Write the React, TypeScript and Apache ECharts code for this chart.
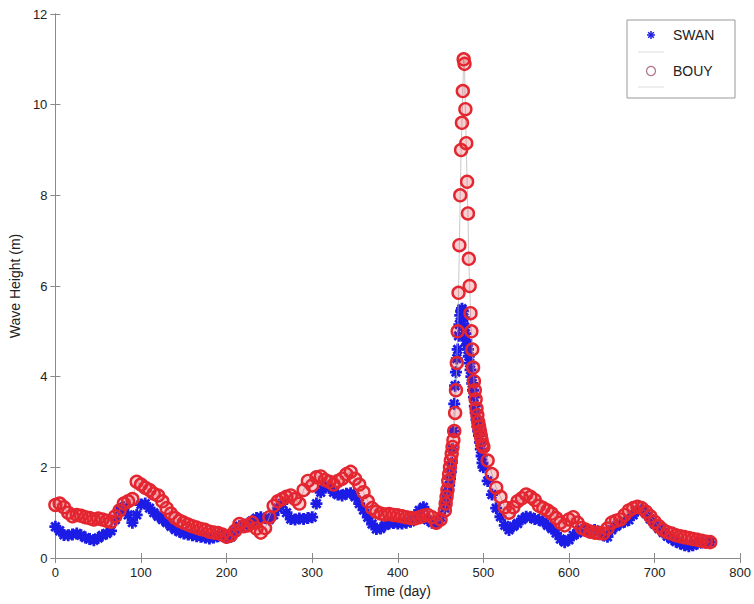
import React, { useEffect, useRef } from "react";
import * as echarts from "echarts";

// Time (day) of each sample
const days = [
  0, 5, 10, 15, 20, 25, 30, 35, 40, 45, 50, 55, 60, 65, 70, 75, 80, 85, 90, 95,
  100, 105, 110, 115, 120, 125, 130, 135, 140, 145, 150, 155, 160, 165, 170, 175, 180, 185, 190, 195,
  200, 205, 210, 215, 220, 225, 230, 235, 240, 245, 250, 255, 260, 265, 270, 275, 280, 285, 290, 295,
  300, 305, 310, 315, 320, 325, 330, 335, 340, 345, 350, 355, 360, 365, 370, 375, 380, 385, 390, 395,
  400, 405, 410, 415, 420, 425, 430, 435, 440, 445, 450, 455,
  456, 457, 458, 459, 460, 461, 462, 463, 464, 465, 466, 467, 468, 469, 470, 471, 472, 473, 474, 475,
  476, 477, 478, 479, 480, 481, 482, 483, 484, 485, 486, 487, 488, 489, 490, 491, 492, 493, 494, 495,
  496, 497, 498, 499, 500,
  505, 510, 515, 520, 525, 530, 535, 540, 545, 550, 555, 560, 565, 570, 575, 580, 585, 590, 595, 600,
  605, 610, 615, 620, 625, 630, 635, 640, 645, 650, 655, 660, 665, 670, 675, 680, 685, 690, 695, 700,
  705, 710, 715, 720, 725, 730, 735, 740, 745, 750, 755, 760, 765,
];

// SWAN model wave height (m)
const swanValues = [
  0.69, 0.6, 0.51, 0.5, 0.52, 0.54, 0.5, 0.45, 0.42, 0.39,
  0.44, 0.5, 0.54, 0.6, 0.85, 1.06, 1.12, 0.95, 0.78, 0.95,
  1.18, 1.2, 1.1, 1.0, 0.92, 0.85, 0.78, 0.7, 0.63, 0.58,
  0.54, 0.52, 0.5, 0.48, 0.47, 0.45, 0.43, 0.45, 0.48, 0.5,
  0.45, 0.47, 0.58, 0.7, 0.72, 0.76, 0.82, 0.88, 0.9, 0.88,
  0.85, 0.95, 1.1, 1.2, 1.0, 0.86, 0.85, 0.87, 0.86, 0.88,
  0.9, 1.2, 1.45, 1.58, 1.55, 1.45, 1.4, 1.38, 1.42, 1.43,
  1.35, 1.2, 1.06, 0.9, 0.75, 0.64, 0.65, 0.72, 0.76, 0.77,
  0.76, 0.76, 0.78, 0.8, 0.9, 1.05, 1.12, 0.84, 0.78, 0.76,
  0.9, 1.1,
  1.25, 1.3, 1.4, 1.5, 1.6, 1.75, 1.9, 2.1, 2.4, 2.8,
  3.4, 3.8, 4.1, 4.4, 4.6, 4.9, 5.15, 5.35, 5.45, 5.5,
  5.45, 5.3, 5.1, 4.95, 4.8, 4.7, 4.6, 4.45, 4.3, 4.15,
  4.0, 3.85, 3.7, 3.55, 3.35, 3.2, 3.05, 2.9, 2.8, 2.7,
  2.55, 2.4, 2.25, 2.1, 2.0,
  1.7, 1.4, 1.1, 0.91, 0.72, 0.62, 0.7, 0.76, 0.85, 0.91,
  0.9, 0.86, 0.84, 0.8, 0.72, 0.65, 0.55, 0.42, 0.35, 0.4,
  0.5, 0.55, 0.62, 0.62, 0.6, 0.62, 0.58, 0.5, 0.47, 0.62,
  0.7, 0.76, 0.8, 0.84, 0.95, 1.04, 1.06, 0.98, 0.86, 0.75,
  0.65, 0.56, 0.48, 0.42, 0.36, 0.32, 0.28, 0.26, 0.28, 0.32,
  0.34, 0.36, 0.35,
];

// Buoy measured wave height (m)
const bouyValues = [
  1.17, 1.2, 1.12, 1.0, 0.92, 0.95, 0.93, 0.9, 0.88, 0.85,
  0.87, 0.85, 0.82, 0.8, 0.92, 1.05, 1.2, 1.25, 1.3, 1.68,
  1.62, 1.55, 1.5, 1.42, 1.38, 1.25, 1.1, 0.98, 0.88, 0.82,
  0.78, 0.74, 0.7, 0.67, 0.64, 0.62, 0.58, 0.56, 0.55, 0.52,
  0.47, 0.5, 0.6, 0.75, 0.7, 0.72, 0.78, 0.65, 0.56, 0.66,
  0.9, 1.15, 1.25, 1.3, 1.35, 1.38, 1.3, 1.2, 1.5, 1.7,
  1.6, 1.78, 1.8, 1.72, 1.68, 1.62, 1.7, 1.75, 1.85, 1.9,
  1.75, 1.62, 1.45, 1.25, 1.1, 1.02, 0.98, 0.96, 0.97, 0.95,
  0.94, 0.92, 0.9, 0.88, 0.87, 0.9, 0.93, 0.95, 0.9, 0.78,
  0.85, 1.05,
  1.2, 1.35, 1.5, 1.7, 1.85, 2.0, 2.15, 2.3, 2.45, 2.6,
  2.8, 3.2, 3.7, 4.3, 5.0, 5.85, 6.9, 8.0, 9.0, 9.6,
  10.3, 11.0, 10.9, 9.9, 9.15, 8.3, 7.6, 6.6, 6.0, 5.4,
  5.0, 4.6, 4.2, 3.9, 3.7, 3.5, 3.3, 3.15, 3.0, 2.9,
  2.8, 2.7, 2.6, 2.5, 2.45,
  2.15, 1.85, 1.55, 1.35, 1.12, 1.0, 1.12, 1.25, 1.32, 1.4,
  1.35, 1.28, 1.15, 1.1, 1.05, 0.98, 0.88, 0.78, 0.72, 0.85,
  0.9, 0.78, 0.66, 0.62, 0.58, 0.56, 0.55, 0.54, 0.65, 0.78,
  0.82, 0.85, 0.95, 1.05, 1.1, 1.13, 1.1, 1.02, 0.92, 0.8,
  0.7, 0.62, 0.57, 0.54, 0.5, 0.48, 0.46, 0.44, 0.42, 0.4,
  0.38, 0.36, 0.35,
];

const xTicks = { min: 0, max: 800, interval: 100 };
const yTicks = { min: 0, max: 12, interval: 2 };
const seriesNames = ["SWAN", "BOUY"];

const FONT = "'Liberation Sans', Arial, sans-serif";
const BLUE = "#1c1ce6";
const RED = "#e42630";
const FRAME = "#8a8a8a";
const ASTERISK =
  "path://M5,0L5,10M0,5L10,5M1.5,1.5L8.5,8.5M1.5,8.5L8.5,1.5";

export default function App() {
  const ref = useRef<HTMLDivElement>(null);
  useEffect(() => {
    if (!ref.current) return;
    const chart = echarts.init(ref.current, undefined, { renderer: "svg" });
    const swanData = days.map((d, i) => [d, swanValues[i]]);
    const bouyData = days.map((d, i) => [d, bouyValues[i]]);
    const axisCommon = {
      axisLine: { show: true, lineStyle: { color: FRAME, width: 1 } },
      axisTick: { show: true, inside: true, length: 5, lineStyle: { color: FRAME } },
      splitLine: { show: false },
    };
    const labelStyle = { color: "#222", fontSize: 13, fontFamily: FONT };
    const ast = (cx: number, cy: number, r: number) => [
      { x1: cx - r, y1: cy, x2: cx + r, y2: cy },
      { x1: cx, y1: cy - r, x2: cx, y2: cy + r },
      { x1: cx - r * 0.7, y1: cy - r * 0.7, x2: cx + r * 0.7, y2: cy + r * 0.7 },
      { x1: cx - r * 0.7, y1: cy + r * 0.7, x2: cx + r * 0.7, y2: cy - r * 0.7 },
    ].map((shape) => ({ type: "line", shape, style: { stroke: BLUE, lineWidth: 1.5 }, z: 12 }));

    chart.setOption({
      animation: false,
      backgroundColor: "#ffffff",
      grid: { left: 51, right: 12, top: 14, bottom: 46, containLabel: false },
      xAxis: [
        {
          type: "value",
          ...xTicks,
          position: "bottom",
          name: "Time (day)",
          nameLocation: "middle",
          nameGap: 26,
          nameTextStyle: { ...labelStyle, fontSize: 14 },
          axisLabel: { ...labelStyle, margin: 8 },
          ...axisCommon,
        },
        {
          type: "value",
          ...xTicks,
          position: "top",
          axisLabel: { show: false },
          ...axisCommon,
        },
      ],
      yAxis: [
        {
          type: "value",
          ...yTicks,
          position: "left",
          name: "Wave Height (m)",
          nameLocation: "middle",
          nameGap: 28,
          nameTextStyle: { ...labelStyle, fontSize: 14 },
          axisLabel: { ...labelStyle, margin: 8 },
          ...axisCommon,
        },
        {
          type: "value",
          ...yTicks,
          position: "right",
          axisLabel: { show: false },
          ...axisCommon,
        },
      ],
      series: [
        {
          name: seriesNames[0],
          type: "line",
          xAxisIndex: 0,
          yAxisIndex: 0,
          data: swanData,
          symbol: ASTERISK,
          symbolSize: 12,
          showAllSymbol: true,
          itemStyle: { color: BLUE, borderColor: BLUE, borderWidth: 2.8 },
          lineStyle: { color: "#b8b8c8", width: 0.7 },
          z: 2,
        },
        {
          name: seriesNames[1],
          type: "line",
          xAxisIndex: 0,
          yAxisIndex: 0,
          data: bouyData,
          symbol: "circle",
          symbolSize: 12,
          showAllSymbol: true,
          itemStyle: { color: "rgba(228,38,48,0.22)", borderColor: RED, borderWidth: 2.4 },
          lineStyle: { color: "#b0b0b0", width: 0.7 },
          z: 3,
        },
      ],
      graphic: [
        {
          type: "rect",
          shape: { x: 627, y: 20, width: 108, height: 78 },
          style: { fill: "#fff", stroke: "#999", lineWidth: 1 },
          z: 10,
        },
        ...ast(651, 35, 4),
        {
          type: "text",
          x: 673,
          y: 35,
          style: { text: seriesNames[0], fill: "#222", fontSize: 14, fontFamily: FONT, verticalAlign: "middle" },
          z: 12,
        },
        {
          type: "line",
          shape: { x1: 638, y1: 52, x2: 664, y2: 52 },
          style: { stroke: "#ddd", lineWidth: 1 },
          z: 12,
        },
        {
          type: "circle",
          shape: { cx: 651, cy: 71, r: 4.5 },
          style: { fill: "none", stroke: "#b07080", lineWidth: 1.2 },
          z: 12,
        },
        {
          type: "text",
          x: 673,
          y: 71,
          style: { text: seriesNames[1], fill: "#222", fontSize: 14, fontFamily: FONT, verticalAlign: "middle" },
          z: 12,
        },
        {
          type: "line",
          shape: { x1: 638, y1: 87, x2: 664, y2: 87 },
          style: { stroke: "#ddd", lineWidth: 1 },
          z: 12,
        },
      ],
    });
    return () => chart.dispose();
  }, []);
  return <div ref={ref} style={{ width: 754, height: 604, position: "absolute", left: 0, top: 0 }} />;
}
